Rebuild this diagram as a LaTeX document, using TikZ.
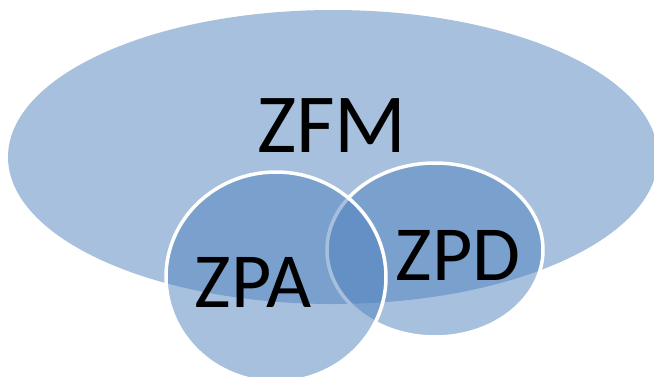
\documentclass[tikz,border=0pt]{standalone}
\usepackage{fontspec}
\setmainfont{Carlito}
\definecolor{zoneblue}{HTML}{4F81BD}
\tikzset{
  zone/.style={fill=zoneblue, fill opacity=0.5},
  ring/.style={zone, draw=white, line width=3.5pt},
  biglabel/.style={anchor=base, inner sep=0pt, font=\fontsize{84}{84}\selectfont},
  label/.style={anchor=base, inner sep=0pt, font=\fontsize{78}{78}\selectfont}
}
\begin{document}
\begin{tikzpicture}[x=1pt, y=-1pt]
  \useasboundingbox (0,0) rectangle (654,376);
  \clip (0,0) rectangle (654,376);
  % outer zone
  \path[zone] (333,157) ellipse [x radius=325, y radius=147];
  % inner zones, ZPD first so ZPA lies above it
  \path[ring] (435,250) ellipse [x radius=108, y radius=87];
  \path[ring] (276,277) ellipse [x radius=110, y radius=105];
  % labels
  \node[biglabel] (zfm) at (332,152) {ZFM};
  \node[label] (zpa) at (253,307) {ZPA};
  \node[label] (zpd) at (458,280) {ZPD};
\end{tikzpicture}
\end{document}
